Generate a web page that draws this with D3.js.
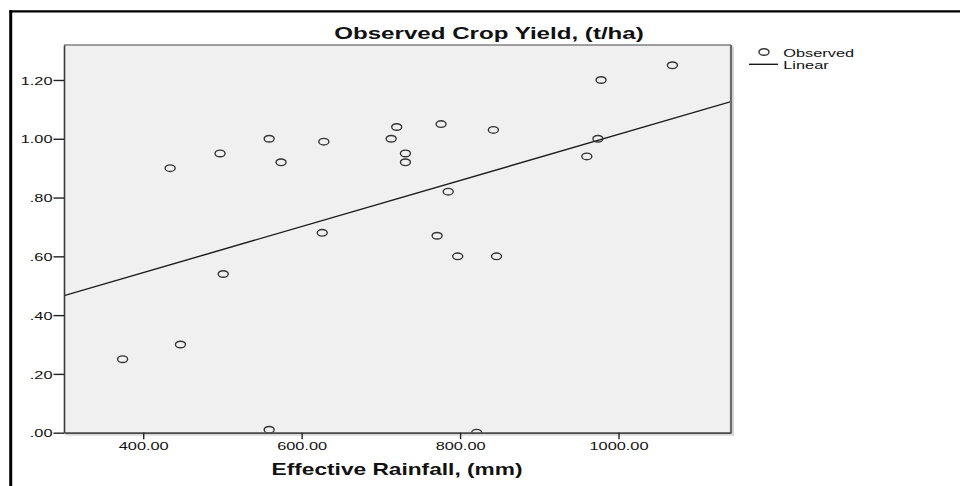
<!DOCTYPE html>
<html>
<head>
<meta charset="utf-8">
<script src="https://cdn.jsdelivr.net/npm/d3@7"></script>
<style>
  html, body { margin: 0; padding: 0; background: #fff; }
  svg { display: block; }
  text { font-family: "Liberation Sans", Arial, sans-serif; fill: #111; }
</style>
</head>
<body>
<svg id="chart" width="960" height="486"></svg>
<script>
// ---- data ----
const rainfall = [374, 434, 447, 497, 501, 559, 574, 559, 626, 628, 713, 720, 731, 731, 776, 785, 771, 797, 821, 842, 846, 960, 974, 978, 1068];
const yieldObs = [0.25, 0.90, 0.30, 0.95, 0.54, 1.00, 0.92, 0.01, 0.68, 0.99, 1.00, 1.04, 0.95, 0.92, 1.05, 0.82, 0.67, 0.60, 0.00, 1.03, 0.60, 0.94, 1.00, 1.20, 1.25];
const xTicks = [400, 600, 800, 1000];
const yTicks = [0, 0.2, 0.4, 0.6, 0.8, 1.0, 1.2];
const xDomain = [300, 1142];
const yDomain = [0, 1.319];
const linearFit = [0.231, 0.000784]; // intercept, slope
const legendLabels = ["Observed", "Linear"];
const titleText = "Observed Crop Yield, (t/ha)";
const xTitleText = "Effective Rainfall, (mm)";

// ---- layout ----
const SX = 1.42; // horizontal stretch of the original rendering
const plot = { left: 64, top: 45, right: 731, bottom: 432.7 };
const svg = d3.select("#chart");

const x = d3.scaleLinear().domain(xDomain).range([plot.left, plot.right]);
const y = d3.scaleLinear().domain(yDomain).range([plot.bottom, plot.top]);

function stretchedText(g, px, py, str, size, weight, anchor) {
  return g.append("text")
    .attr("transform", `translate(${px},${py}) scale(${SX},1)`)
    .attr("text-anchor", anchor)
    .style("font-size", size + "px")
    .style("font-weight", weight)
    .text(str);
}

// outer frame (top and left edges visible)
svg.append("line").attr("x1", 9.5).attr("x2", 960).attr("y1", 11.3).attr("y2", 11.3)
  .attr("stroke", "#000").attr("stroke-width", 2.2);
svg.append("line").attr("x1", 10.7).attr("x2", 10.7).attr("y1", 10.3).attr("y2", 486)
  .attr("stroke", "#000").attr("stroke-width", 3);

// plot shadow + background
svg.append("rect").attr("x", plot.left + 1.5).attr("y", plot.top + 1.5)
  .attr("width", plot.right - plot.left + 1.5).attr("height", plot.bottom - plot.top + 1.5)
  .attr("fill", "#d8d8d8");
svg.append("rect").attr("x", plot.left).attr("y", plot.top)
  .attr("width", plot.right - plot.left).attr("height", plot.bottom - plot.top)
  .attr("fill", "#f0f0f0");

svg.append("clipPath").attr("id", "clip").append("rect")
  .attr("x", plot.left).attr("y", plot.top)
  .attr("width", plot.right - plot.left).attr("height", plot.bottom - plot.top);

const inner = svg.append("g").attr("clip-path", "url(#clip)");

// regression line
const fit = v => linearFit[0] + linearFit[1] * v;
inner.append("line")
  .attr("x1", x(xDomain[0])).attr("y1", y(fit(xDomain[0])))
  .attr("x2", x(xDomain[1])).attr("y2", y(fit(xDomain[1])))
  .attr("stroke", "#1a1a1a").attr("stroke-width", 1.4);

// points
inner.selectAll("ellipse.pt").data(rainfall.map((r, i) => [r, yieldObs[i]]))
  .enter().append("ellipse").attr("class", "pt")
  .attr("cx", d => x(d[0])).attr("cy", d => y(d[1]))
  .attr("rx", 5).attr("ry", 3.3)
  .attr("fill", "none").attr("stroke", "#333").attr("stroke-width", 1.4);

// plot borders
svg.append("line").attr("x1", plot.left).attr("x2", plot.right).attr("y1", plot.top).attr("y2", plot.top)
  .attr("stroke", "#808080").attr("stroke-width", 1.3);
svg.append("line").attr("x1", plot.right).attr("x2", plot.right).attr("y1", plot.top).attr("y2", plot.bottom)
  .attr("stroke", "#6a6a6a").attr("stroke-width", 2.2);

// axes
const yAxis = d3.axisLeft(y).tickValues(yTicks).tickSize(10.5).tickSizeOuter(0).tickPadding(1)
  .tickFormat(d => d3.format(".2f")(d).replace(/^0/, ""));
const xAxis = d3.axisBottom(x).tickValues(xTicks).tickSize(6.5).tickSizeOuter(0).tickPadding(1)
  .tickFormat(d3.format(".2f"));

const gy = svg.append("g").attr("transform", `translate(${plot.left},0)`).call(yAxis);
const gx = svg.append("g").attr("transform", `translate(0,${plot.bottom})`).call(xAxis);

gy.select(".domain").attr("stroke", "#3a3a3a").attr("stroke-width", 1.6);
gx.select(".domain").attr("stroke", "#4a4a4a").attr("stroke-width", 1.8);
gy.selectAll(".tick line").attr("stroke", "#222").attr("stroke-width", 1.4);
gx.selectAll(".tick line").attr("stroke", "#222").attr("stroke-width", 1.4);

// restyle tick labels with horizontal stretch
gy.selectAll(".tick text").each(function(d) {
  const t = d3.select(this);
  t.attr("x", null).attr("dy", null)
    .attr("transform", `translate(-11.5,4.2) scale(${SX},1)`)
    .attr("text-anchor", "end")
    .style("font-size", "11.5px").style("font-family", "'Liberation Sans', Arial, sans-serif")
    .attr("fill", "#111");
});
gx.selectAll(".tick text").each(function(d) {
  const t = d3.select(this);
  t.attr("y", null).attr("dy", null)
    .attr("transform", `translate(0,17.3) scale(${SX},1)`)
    .attr("text-anchor", "middle")
    .style("font-size", "11.5px").style("font-family", "'Liberation Sans', Arial, sans-serif")
    .attr("fill", "#111");
});

// titles
stretchedText(svg, 489, 39, titleText, 17, "bold", "middle");
stretchedText(svg, 397, 475, xTitleText, 16, "bold", "middle");

// legend
const lg = svg.append("g");
lg.append("ellipse").attr("cx", 764).attr("cy", 52).attr("rx", 5).attr("ry", 3.3)
  .attr("fill", "none").attr("stroke", "#333").attr("stroke-width", 1.4);
lg.append("line").attr("x1", 749).attr("x2", 778).attr("y1", 64.3).attr("y2", 64.3)
  .attr("stroke", "#1a1a1a").attr("stroke-width", 1.4);
stretchedText(lg, 783.3, 57.3, legendLabels[0], 11.5, "normal", "start");
stretchedText(lg, 783.3, 69, legendLabels[1], 11.5, "normal", "start");
</script>
</body>
</html>
